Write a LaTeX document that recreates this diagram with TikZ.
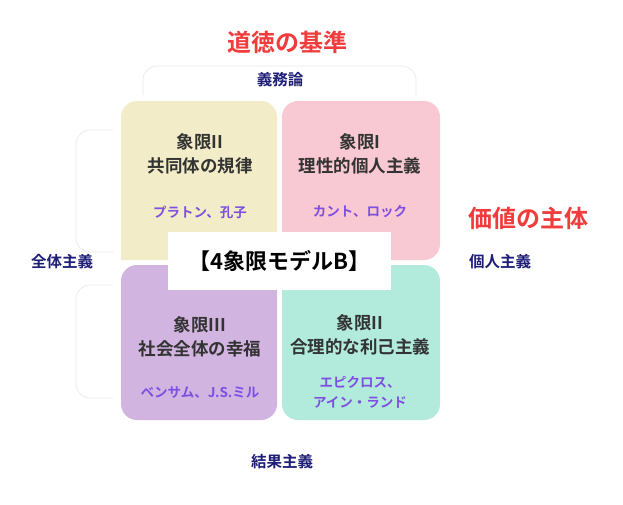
\documentclass[tikz,border=0pt]{standalone}
\usepackage{fontspec}
\setmainfont{Noto Sans CJK JP}[BoldFont={* Bold}]
\definecolor{qy}{HTML}{F2EDC8}
\definecolor{qp}{HTML}{F9C9D3}
\definecolor{ql}{HTML}{D2B4E1}
\definecolor{qm}{HTML}{B2EADC}
\definecolor{tred}{HTML}{F03C3C}
\definecolor{navy}{HTML}{1E1E78}
\definecolor{nm}{HTML}{7E4FE0}
\definecolor{dk}{HTML}{333333}
\definecolor{br}{HTML}{E8E8F0}
\begin{document}
\begin{tikzpicture}[x=1pt,y=-1pt,
  lab/.style={text=navy,font=\bfseries\fontsize{15.5}{18}\selectfont},
  head/.style={text=dk,font=\bfseries\fontsize{17.5}{24}\selectfont,align=center},
  nme/.style={text=nm,font=\bfseries\fontsize{13.5}{20}\selectfont,align=center},
  brk/.style={draw=br,line width=0.7pt,rounded corners=14pt}]
\useasboundingbox (0,0) rectangle (623,504);
\draw[brk] (143,95) -- (143,66) -- (416,66) -- (416,95);
\draw[brk] (113,130) -- (76,130) -- (76,252) -- (113,252);
\draw[brk] (113,285) -- (76,285) -- (76,398) -- (113,398);
\fill[qy,rounded corners=16pt] (121,260) -- (121,101) -- (277,101) [sharp corners]-- (277,260) -- cycle;
\fill[qp,rounded corners=16pt] (282,260) -- (282,101) -- (440,101) -- (440,260) [sharp corners] -- cycle;
\fill[ql,rounded corners=16pt] (277,265) -- (121,265) -- (121,420) -- (277,420)[sharp corners] -- cycle;
\fill[qm,rounded corners=16pt] (282,265) -- (282,420) -- (440,420) -- (440,265)[sharp corners] -- cycle;
\node[fill=white,minimum width=223pt,minimum height=58pt,font=\bfseries\fontsize{22}{26}\selectfont,text=black] (c) at (279.5,261) {【4象限モデルB】};
\node[text=tred,font=\bfseries\fontsize{24}{28}\selectfont] (t1) at (287,42) {道徳の基準};
\node[text=tred,font=\bfseries\fontsize{24}{28}\selectfont] (t2) at (528,218) {価値の主体};
\node[lab] (l1) at (280,80) {義務論};
\node[lab] (l2) at (62,262) {全体主義};
\node[lab] (l3) at (500,262) {個人主義};
\node[lab] (l4) at (282,462) {結果主義};
\node[head] (h1) at (200,154) {象限II\\共同体の規律};
\node[head] (h2) at (360,154) {象限I\\理性的個人主義};
\node[head] (h3) at (200,337) {象限III\\社会全体の幸福};
\node[head] (h4) at (360,335) {象限II\\合理的な利己主義};
\node[nme] (n1) at (200,212) {プラトン、孔子};
\node[nme] (n2) at (360,212) {カント、ロック};
\node[nme] (n3) at (200,393) {ベンサム、J.S.ミル};
\node[nme] (n4) at (360,392) {エピクロス、\\アイン・ランド};
\end{tikzpicture}
\end{document}
